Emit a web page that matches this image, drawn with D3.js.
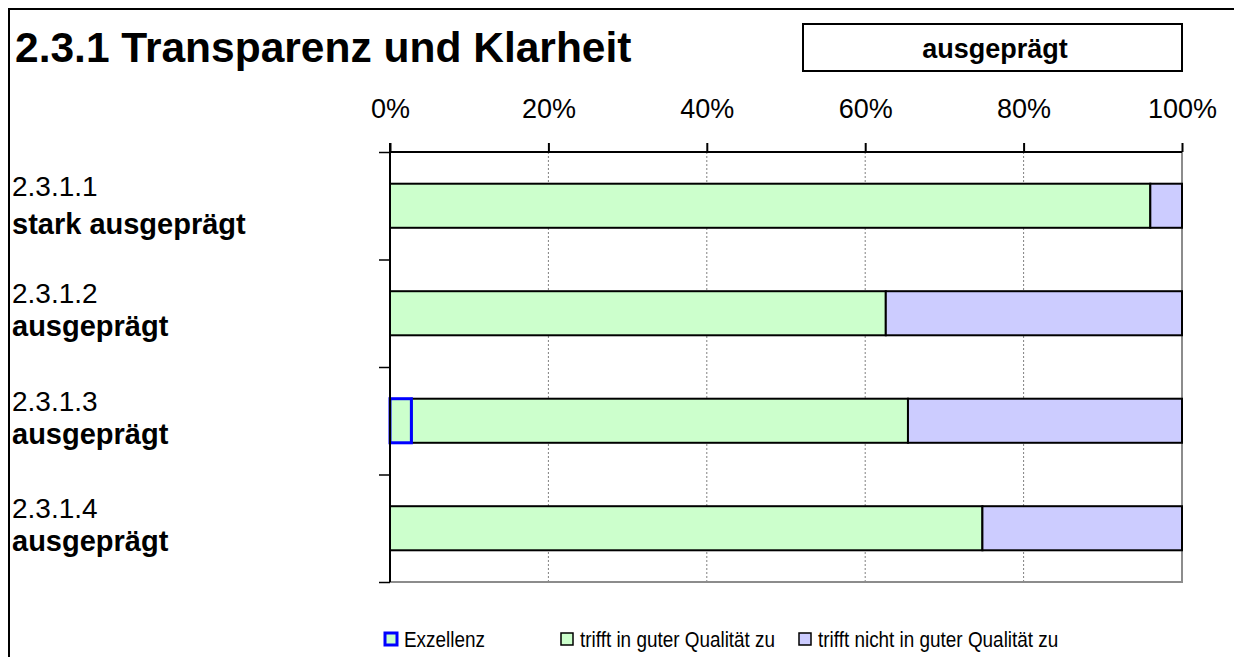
<!DOCTYPE html>
<html>
<head>
<meta charset="utf-8">
<script src="https://cdn.jsdelivr.net/npm/d3@7"></script>
<style>
  body { margin: 0; background: #fff; }
  svg { display: block; font-family: "Liberation Sans", Arial, sans-serif; }
</style>
</head>
<body>
<svg id="chart" width="1234" height="657"></svg>
<script>
// Data (percent of answers)
var categories = ["2.3.1.1", "2.3.1.2", "2.3.1.3", "2.3.1.4"];
var ratings = ["stark ausgeprägt", "ausgeprägt", "ausgeprägt", "ausgeprägt"];
var exzellenz = [0, 0, 2.7, 0];
var gut = [96.0, 62.6, 62.7, 74.8];
var nichtGut = [4.0, 37.4, 34.6, 25.2];
var seriesNames = ["Exzellenz", "trifft in guter Qualität zu", "trifft nicht in guter Qualität zu"];
var xTicks = [0, 20, 40, 60, 80, 100];
var title = "2.3.1 Transparenz und Klarheit";
var overallRating = "ausgeprägt";

var svg = d3.select("#chart");
var plotLeft = 390, plotRight = 1182, plotTop = 152, plotBottom = 582;

// outer frame (runs past the picture on right and bottom)
svg.append("rect")
  .attr("x", 9).attr("y", 9).attr("width", 1260).attr("height", 700)
  .attr("fill", "none").attr("stroke", "#000").attr("stroke-width", 2);

svg.append("text")
  .attr("x", 15).attr("y", 62)
  .attr("font-size", 42.5).attr("font-weight", "bold")
  .text(title);

// rating box
svg.append("rect")
  .attr("x", 803).attr("y", 24).attr("width", 379).attr("height", 47)
  .attr("fill", "#fff").attr("stroke", "#000").attr("stroke-width", 2);
svg.append("text")
  .attr("x", 995).attr("y", 58)
  .attr("text-anchor", "middle")
  .attr("font-size", 27).attr("font-weight", "bold")
  .text(overallRating);

var x = d3.scaleLinear().domain([0, 100]).range([plotLeft, plotRight]);
var y = d3.scaleBand().domain(categories).range([plotTop, plotBottom])
  .paddingInner(0.59).paddingOuter(0.295);
var yLines = d3.scaleLinear().domain([0, categories.length]).range([plotTop, plotBottom]);

// dotted gridlines
svg.append("g")
  .selectAll("line")
  .data(xTicks.slice(1, -1))
  .enter()
  .append("line")
  .attr("x1", function(d) { return x(d); })
  .attr("x2", function(d) { return x(d); })
  .attr("y1", plotTop).attr("y2", plotBottom)
  .attr("stroke", "#808080").attr("stroke-width", 1)
  .attr("stroke-dasharray", "2,2");

// plot area right and bottom border (grey)
svg.append("path")
  .attr("d", "M" + x(100) + "," + plotTop + "V" + plotBottom + "H" + plotLeft)
  .attr("fill", "none").attr("stroke", "#8c8c8c").attr("stroke-width", 2);

// stacked bars, Exzellenz on the left
var table = categories.map(function(c, i) {
  return { cat: c, exz: exzellenz[i], gut: gut[i], nicht: nichtGut[i] };
});
var layers = d3.stack().keys(["exz", "gut", "nicht"])(table);
var fills = { exz: "#CCFFCC", gut: "#CCFFCC", nicht: "#CCCCFF" };
var strokes = { exz: "#0000ff", gut: "#000", nicht: "#000" };
var widths = { exz: 3, gut: 2, nicht: 2 };

// draw exzellenz last so its blue outline stays on top
[layers[1], layers[2], layers[0]].forEach(function(layer) {
  svg.append("g")
    .selectAll("rect")
    .data(layer.filter(function(d) { return d[1] - d[0] > 0; }))
    .enter()
    .append("rect")
    .attr("x", function(d) { return x(d[0]); })
    .attr("width", function(d) { return x(d[1]) - x(d[0]); })
    .attr("y", function(d) { return y(d.data.cat); })
    .attr("height", y.bandwidth())
    .attr("fill", fills[layer.key])
    .attr("stroke", strokes[layer.key])
    .attr("stroke-width", widths[layer.key]);
});

// top axis
var xAxis = svg.append("g")
  .attr("transform", "translate(0," + plotTop + ")")
  .call(d3.axisTop(x).tickValues(xTicks).tickSize(9).tickPadding(25)
    .tickFormat(function(d) { return d + "%"; }));
xAxis.select(".domain").attr("stroke", "#000").attr("stroke-width", 2)
  .attr("d", "M" + plotLeft + ",0H" + plotRight);
xAxis.selectAll(".tick line").attr("stroke", "#000").attr("stroke-width", 2);
xAxis.selectAll(".tick text")
  .attr("font-size", 27).attr("font-family", "Liberation Sans, Arial, sans-serif")
  .attr("fill", "#000");

// left axis with ticks between categories
var yAxis = svg.append("g")
  .attr("transform", "translate(" + plotLeft + ",0)")
  .call(d3.axisLeft(yLines).ticks(categories.length).tickSize(11).tickFormat(""));
yAxis.select(".domain").attr("stroke", "#000").attr("stroke-width", 2)
  .attr("d", "M0," + (plotTop - 9) + "V" + plotBottom);
yAxis.selectAll(".tick line").attr("stroke", "#000").attr("stroke-width", 1.5);

// category labels
var labels = svg.append("g")
  .selectAll("g")
  .data(categories)
  .enter()
  .append("g")
  .attr("transform", function(d) { return "translate(12," + (y(d) + y.bandwidth() / 2) + ")"; });
labels.append("text")
  .attr("y", -10)
  .attr("font-size", 28)
  .text(function(d) { return d; });
labels.append("text")
  .attr("y", function(d, i) { return i === 0 ? 28 : 23; })
  .attr("font-size", 29).attr("font-weight", "bold")
  .text(function(d, i) { return ratings[i]; });

// legend
var legend = svg.append("g").attr("class", "legend")
  .attr("transform", "translate(385,639)");
var legendX = [0, 176, 414];
var legendFill = ["#CCFFCC", "#CCFFCC", "#CCCCFF"];
var legendStroke = ["#0000ff", "#000", "#000"];
var legendWidth = [3, 1.5, 1.5];
var item = legend.selectAll("g")
  .data(seriesNames)
  .enter()
  .append("g")
  .attr("transform", function(d, i) { return "translate(" + legendX[i] + ",0)"; });
item.append("rect")
  .attr("x", 0).attr("y", -6).attr("width", 12).attr("height", 12)
  .attr("fill", function(d, i) { return legendFill[i]; })
  .attr("stroke", function(d, i) { return legendStroke[i]; })
  .attr("stroke-width", function(d, i) { return legendWidth[i]; });
item.append("text")
  .attr("transform", "translate(19,8) scale(0.86,1)")
  .attr("font-size", 22)
  .text(function(d) { return d; });
</script>
</body>
</html>
